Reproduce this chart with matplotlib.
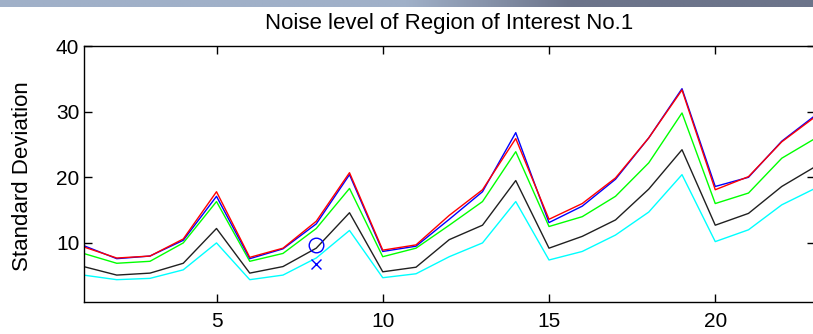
import numpy as np
import matplotlib
matplotlib.use("Agg")
import matplotlib.pyplot as plt

# region numbers
regions = list(range(1, 24))

# std deviation per series
std_red = [9.4, 7.7, 8.0, 10.6, 17.8, 7.8, 9.2, 13.3, 20.7, 8.9, 9.7, 14.2,
           18.1, 25.9, 13.6, 16.0, 19.9, 26.0, 33.3, 18.1, 20.1, 25.4, 29.2]
std_blue = [9.6, 7.6, 8.0, 10.4, 17.1, 7.6, 9.1, 12.9, 20.4, 8.7, 9.5, 13.6,
            17.8, 26.8, 13.1, 15.6, 19.7, 26.0, 33.5, 18.6, 20.0, 25.5, 29.4]
std_green = [8.4, 6.9, 7.2, 10.0, 16.3, 7.2, 8.4, 12.2, 18.3, 7.9, 9.2, 12.7,
             16.3, 23.9, 12.5, 14.0, 17.1, 22.2, 29.8, 16.0, 17.6, 22.9, 25.9]
std_black = [6.4, 5.1, 5.4, 6.9, 12.2, 5.4, 6.4, 9.2, 14.6, 5.6, 6.3, 10.5,
             12.7, 19.5, 9.2, 11.0, 13.5, 18.2, 24.2, 12.7, 14.5, 18.6, 21.6]
std_cyan = [5.1, 4.4, 4.6, 5.9, 10.0, 4.4, 5.1, 7.7, 11.9, 4.7, 5.3, 7.9,
            10.0, 16.3, 7.4, 8.7, 11.2, 14.7, 20.4, 10.2, 12.0, 15.8, 18.3]

# single measured points
circle_pt = (8, 9.7)
cross_pt = (8, 6.8)

plt.rcParams['font.family'] = ['Liberation Sans', 'DejaVu Sans']

fig = plt.figure(figsize=(8.13, 3.34), dpi=100)

# gradient header band at the very top
band = fig.add_axes([0, 1 - 7 / 334, 1, 7 / 334])
left_col = np.array([160, 176, 200]) / 255
right_col = np.array([108, 116, 138]) / 255
t = np.clip((np.linspace(0, 1, 400) - 0.5) / 0.2, 0, 1)
grad = left_col[None, :] * (1 - t[:, None]) + right_col[None, :] * t[:, None]
band.imshow(grad[None, :, :], aspect='auto', extent=[0, 1, 0, 1])
band.axis('off')

ax = fig.add_axes([83.5 / 813, 1 - 302 / 334, (815 - 83.5) / 813, (302 - 46) / 334])

lw = 1.0
ax.plot(regions, std_cyan, color='#00ffff', lw=lw)
ax.plot(regions, std_black, color='#202020', lw=lw)
ax.plot(regions, std_green, color='#00ff00', lw=lw)
ax.plot(regions, std_blue, color='#0000ff', lw=lw)
ax.plot(regions, std_red, color='#ff0000', lw=lw)

ax.plot(*circle_pt, marker='o', mfc='none', mec='#0000ff', ms=10.5, mew=1.0)
ax.plot(*cross_pt, marker='x', color='#0000ff', ms=6.5, mew=1.0)

ax.set_xlim(1, 23)
ax.set_ylim(1, 40)
ax.set_xticks([5, 10, 15, 20])
ax.set_yticks([10, 20, 30, 40])
ax.tick_params(direction='in', length=6, width=1.0, top=True, right=True,
               labelsize=15)
ax.tick_params(axis='x', pad=7)
ax.tick_params(axis='y', pad=3)
for s in ax.spines.values():
    s.set_linewidth(1.0)

ax.set_ylabel('Standard Deviation', fontsize=16)
ax.yaxis.set_label_coords(-0.069, 0.49)
ax.set_title('Noise level of Region of Interest No.1', fontsize=16, pad=12)

fig.savefig('out.png', dpi=100)
